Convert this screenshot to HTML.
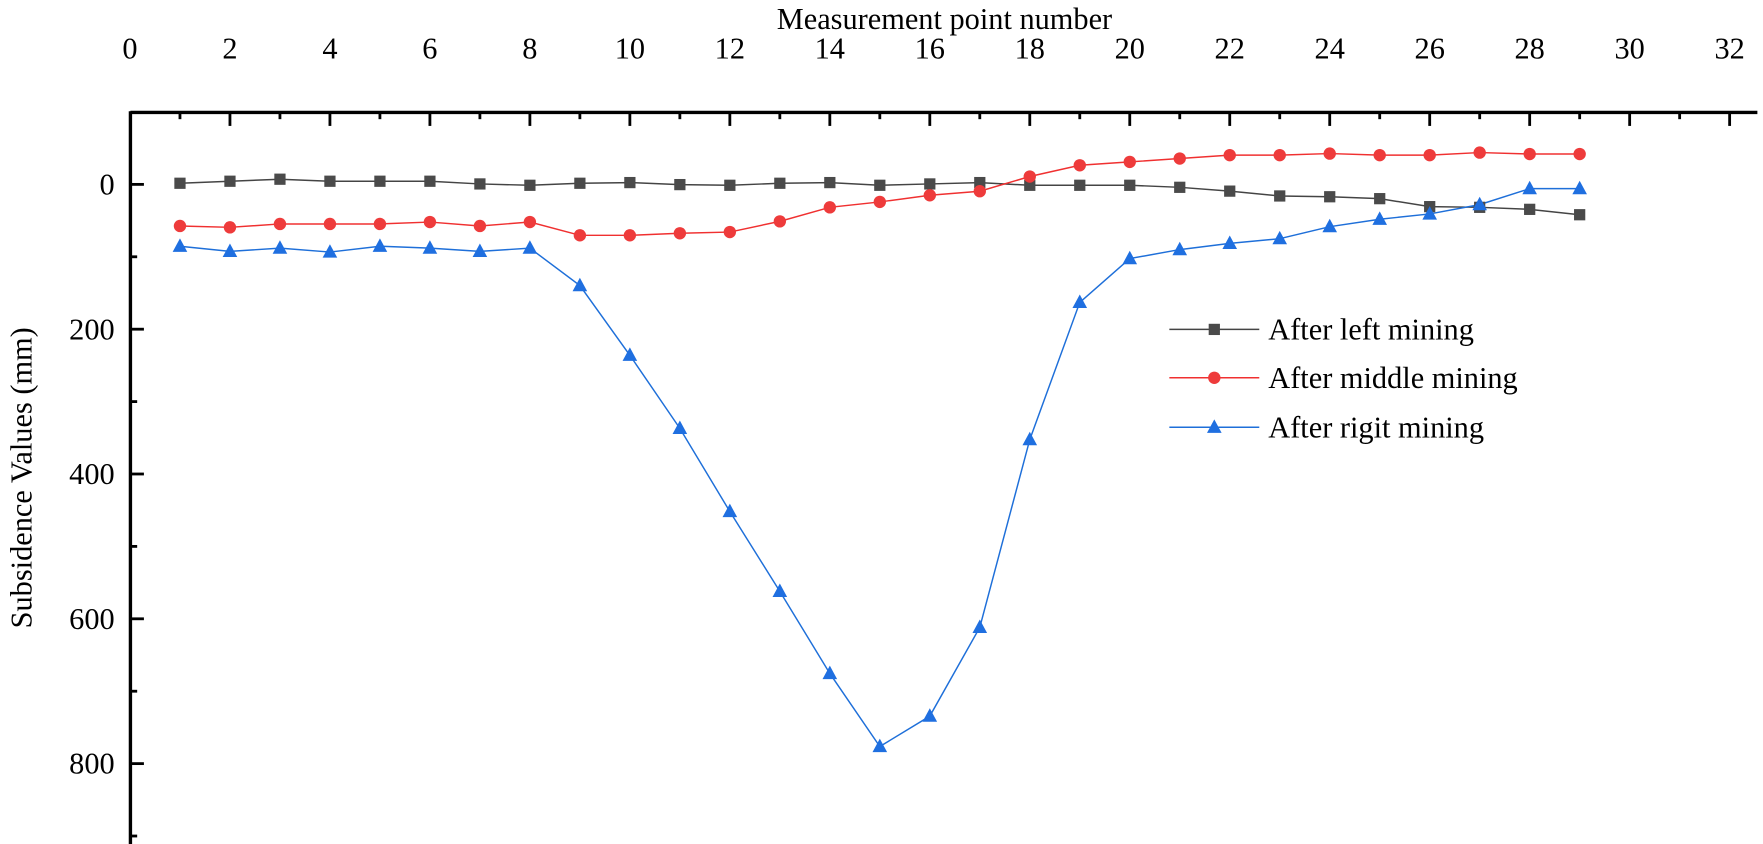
<!DOCTYPE html>
<html><head><meta charset="utf-8"><style>
html,body{margin:0;padding:0;background:#fff;}
svg{display:block;font-family:"Liberation Serif",serif;}
</style></head><body>
<svg id="s" width="1763" height="844" viewBox="0 0 1568 750.7" preserveAspectRatio="none" xmlns="http://www.w3.org/2000/svg">
<rect width="1568" height="751" fill="#fff"/>
<g id="g"></g>
<text x="840" y="26" font-size="27" text-anchor="middle">Measurement point number</text>
<text transform="translate(28,425) rotate(-90)" font-size="27" text-anchor="middle">Subsidence Values (mm)</text>
<g font-size="27">
<line x1="1040" y1="293" x2="1120" y2="293" stroke="#444" stroke-width="1.3"/>
<rect x="1075" y="288" width="10" height="10" fill="#4a4a4a"/>
<text x="1128" y="302">After left mining</text>
<line x1="1040" y1="336" x2="1120" y2="336" stroke="#f03030" stroke-width="1.3"/>
<circle cx="1080" cy="336" r="5.5" fill="#ee3b3b"/>
<text x="1128" y="345">After middle mining</text>
<line x1="1040" y1="380" x2="1120" y2="380" stroke="#1e6fd9" stroke-width="1.3"/>
<polygon points="1080,373 1086.5,385 1073.5,385" fill="#1f6fe0"/>
<text x="1128" y="389">After rigit mining</text>
</g>
</svg>
<script>
const NS="http://www.w3.org/2000/svg",g=document.getElementById('g');
function el(t,a){const e=document.createElementNS(NS,t);for(const k in a)e.setAttribute(k,a[k]);g.appendChild(e);return e;}
const X0=115.6,PX=44.46,Y0=164,PY=0.644;
el('line',{x1:116,y1:100,x2:1563,y2:100,stroke:'#000','stroke-width':3});
el('line',{x1:116,y1:99,x2:116,y2:751,stroke:'#000','stroke-width':3});
for(let k=0;k<=32;k++){const x=X0+PX*k;if(k>0)el('line',{x1:x,y1:100,x2:x,y2:100+(k%2?6:12),stroke:'#000','stroke-width':2.5});
 if(k%2==0){const t=el('text',{x:x,y:52,'font-size':27,'text-anchor':'middle'});t.textContent=k;}}
for(let v=0;v<=900;v+=100){const y=Y0+v*PY;el('line',{x1:116,y1:y,x2:116+(v%200?6:12),y2:y,stroke:'#000','stroke-width':2.5});
 if(v%200==0){const t=el('text',{x:102,y:y+9,'font-size':27,'text-anchor':'end'});t.textContent=v;}}
const B=[163,161.2,159.4,161.2,161.2,161.2,163.6,164.8,163,162.4,164.2,164.8,163,162.4,164.8,163.6,162.4,164.8,164.8,164.8,166.6,170,174.3,175,176.7,183.8,184.4,186.2,191];
const R=[201,202.2,199.2,199.2,199.2,197.5,201,197.5,209.3,209.3,207.5,206.4,196.9,184.4,179.6,173.7,170.1,157,147,144,141,138,138,136.6,138,138,135.7,137,137];
const U=[219,223.6,220.7,224.2,219,220.7,223.6,220.7,254,316,381,455,526,599,664,637,558,391,269,230,222,216.5,212.3,201.6,195,190.3,182,167.8,167.8];
function line(d,c){el('polyline',{points:d.map((y,i)=>(X0+PX*(i+1))+','+y).join(' '),fill:'none',stroke:c,'stroke-width':1.3});}
line(B,'#444');line(R,'#f03030');line(U,'#1e6fd9');
B.forEach((y,i)=>{const x=X0+PX*(i+1);el('rect',{x:x-5,y:y-5,width:10,height:10,fill:'#4a4a4a'});});
R.forEach((y,i)=>{const x=X0+PX*(i+1);el('circle',{cx:x,cy:y,r:5.5,fill:'#ee3b3b'});});
U.forEach((y,i)=>{const x=X0+PX*(i+1);el('polygon',{points:`${x},${y-7} ${x+6.5},${y+5} ${x-6.5},${y+5}`,fill:'#1f6fe0'});});
</script>
</body></html>
